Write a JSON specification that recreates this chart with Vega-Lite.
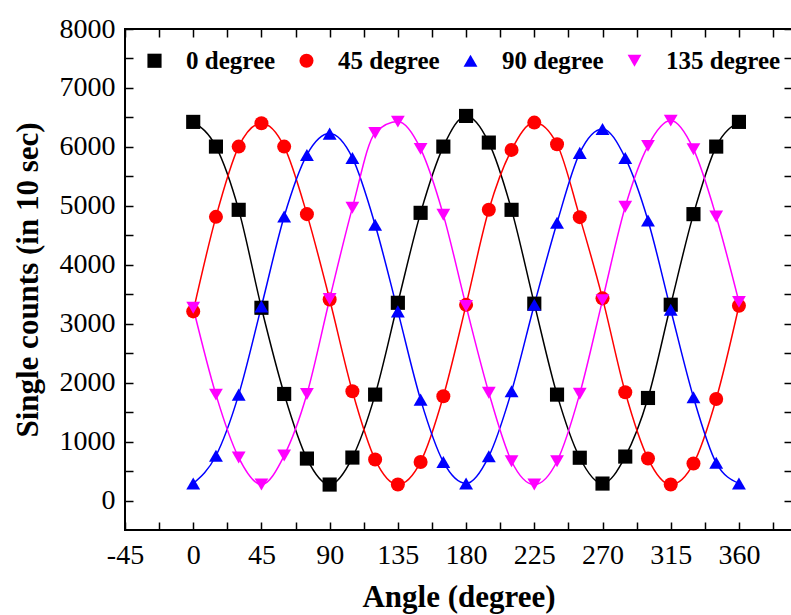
{
  "$schema": "https://vega.github.io/schema/vega-lite/v6.json",
  "autosize": {"type": "none"},
  "padding": {"left": 125, "top": 29, "right": 0, "bottom": 86},
  "width": 667,
  "height": 501,
  "background": "white",
  "config": {
    "view": {"stroke": "black", "strokeWidth": 2},
    "font": "Liberation Serif",
    "axis": {
      "domain": false,
      "grid": false,
      "tickColor": "black",
      "tickWidth": 1.5,
      "labelFont": "Liberation Serif",
      "labelFontSize": 28,
      "labelColor": "black",
      "titleFont": "Liberation Serif",
      "titleFontSize": 31,
      "titleFontWeight": "bold",
      "titleColor": "black",
      "labelOverlap": false,
      "labelFlush": false
    },
    "legend": {
      "labelFont": "Liberation Serif",
      "labelFontSize": 25,
      "labelFontWeight": "bold",
      "labelColor": "black"
    }
  },
  "data": {
    "values": [
      {"angle": 0, "counts": 6424, "series": "0 degree"},
      {"angle": 15, "counts": 6005, "series": "0 degree"},
      {"angle": 30, "counts": 4932, "series": "0 degree"},
      {"angle": 45, "counts": 3270, "series": "0 degree"},
      {"angle": 60, "counts": 1808, "series": "0 degree"},
      {"angle": 75, "counts": 712, "series": "0 degree"},
      {"angle": 90, "counts": 271, "series": "0 degree"},
      {"angle": 105, "counts": 729, "series": "0 degree"},
      {"angle": 120, "counts": 1797, "series": "0 degree"},
      {"angle": 135, "counts": 3355, "series": "0 degree"},
      {"angle": 150, "counts": 4881, "series": "0 degree"},
      {"angle": 165, "counts": 6005, "series": "0 degree"},
      {"angle": 180, "counts": 6525, "series": "0 degree"},
      {"angle": 195, "counts": 6073, "series": "0 degree"},
      {"angle": 210, "counts": 4932, "series": "0 degree"},
      {"angle": 225, "counts": 3340, "series": "0 degree"},
      {"angle": 240, "counts": 1797, "series": "0 degree"},
      {"angle": 255, "counts": 726, "series": "0 degree"},
      {"angle": 270, "counts": 288, "series": "0 degree"},
      {"angle": 285, "counts": 746, "series": "0 degree"},
      {"angle": 300, "counts": 1740, "series": "0 degree"},
      {"angle": 315, "counts": 3322, "series": "0 degree"},
      {"angle": 330, "counts": 4859, "series": "0 degree"},
      {"angle": 345, "counts": 6005, "series": "0 degree"},
      {"angle": 360, "counts": 6424, "series": "0 degree"},
      {"angle": 0, "counts": 3209, "series": "45 degree"},
      {"angle": 15, "counts": 4813, "series": "45 degree"},
      {"angle": 30, "counts": 6005, "series": "45 degree"},
      {"angle": 45, "counts": 6400, "series": "45 degree"},
      {"angle": 60, "counts": 6005, "series": "45 degree"},
      {"angle": 75, "counts": 4859, "series": "45 degree"},
      {"angle": 90, "counts": 3410, "series": "45 degree"},
      {"angle": 105, "counts": 1853, "series": "45 degree"},
      {"angle": 120, "counts": 695, "series": "45 degree"},
      {"angle": 135, "counts": 271, "series": "45 degree"},
      {"angle": 150, "counts": 655, "series": "45 degree"},
      {"angle": 165, "counts": 1768, "series": "45 degree"},
      {"angle": 180, "counts": 3320, "series": "45 degree"},
      {"angle": 195, "counts": 4932, "series": "45 degree"},
      {"angle": 210, "counts": 5949, "series": "45 degree"},
      {"angle": 225, "counts": 6412, "series": "45 degree"},
      {"angle": 240, "counts": 6045, "series": "45 degree"},
      {"angle": 255, "counts": 4808, "series": "45 degree"},
      {"angle": 270, "counts": 3430, "series": "45 degree"},
      {"angle": 285, "counts": 1836, "series": "45 degree"},
      {"angle": 300, "counts": 712, "series": "45 degree"},
      {"angle": 315, "counts": 271, "series": "45 degree"},
      {"angle": 330, "counts": 627, "series": "45 degree"},
      {"angle": 345, "counts": 1723, "series": "45 degree"},
      {"angle": 360, "counts": 3305, "series": "45 degree"},
      {"angle": 0, "counts": 290, "series": "90 degree"},
      {"angle": 15, "counts": 760, "series": "90 degree"},
      {"angle": 30, "counts": 1797, "series": "90 degree"},
      {"angle": 45, "counts": 3294, "series": "90 degree"},
      {"angle": 60, "counts": 4819, "series": "90 degree"},
      {"angle": 75, "counts": 5864, "series": "90 degree"},
      {"angle": 90, "counts": 6225, "series": "90 degree"},
      {"angle": 105, "counts": 5813, "series": "90 degree"},
      {"angle": 120, "counts": 4678, "series": "90 degree"},
      {"angle": 135, "counts": 3209, "series": "90 degree"},
      {"angle": 150, "counts": 1712, "series": "90 degree"},
      {"angle": 165, "counts": 655, "series": "90 degree"},
      {"angle": 180, "counts": 290, "series": "90 degree"},
      {"angle": 195, "counts": 750, "series": "90 degree"},
      {"angle": 210, "counts": 1853, "series": "90 degree"},
      {"angle": 225, "counts": 3322, "series": "90 degree"},
      {"angle": 240, "counts": 4712, "series": "90 degree"},
      {"angle": 255, "counts": 5898, "series": "90 degree"},
      {"angle": 270, "counts": 6305, "series": "90 degree"},
      {"angle": 285, "counts": 5813, "series": "90 degree"},
      {"angle": 300, "counts": 4751, "series": "90 degree"},
      {"angle": 315, "counts": 3237, "series": "90 degree"},
      {"angle": 330, "counts": 1751, "series": "90 degree"},
      {"angle": 345, "counts": 640, "series": "90 degree"},
      {"angle": 360, "counts": 290, "series": "90 degree"},
      {"angle": 0, "counts": 3271, "series": "135 degree"},
      {"angle": 15, "counts": 1797, "series": "135 degree"},
      {"angle": 30, "counts": 729, "series": "135 degree"},
      {"angle": 45, "counts": 271, "series": "135 degree"},
      {"angle": 60, "counts": 763, "series": "135 degree"},
      {"angle": 75, "counts": 1808, "series": "135 degree"},
      {"angle": 90, "counts": 3420, "series": "135 degree"},
      {"angle": 105, "counts": 4966, "series": "135 degree"},
      {"angle": 120, "counts": 6237, "series": "135 degree"},
      {"angle": 135, "counts": 6429, "series": "135 degree"},
      {"angle": 150, "counts": 5966, "series": "135 degree"},
      {"angle": 165, "counts": 4847, "series": "135 degree"},
      {"angle": 180, "counts": 3300, "series": "135 degree"},
      {"angle": 195, "counts": 1830, "series": "135 degree"},
      {"angle": 210, "counts": 667, "series": "135 degree"},
      {"angle": 225, "counts": 271, "series": "135 degree"},
      {"angle": 240, "counts": 667, "series": "135 degree"},
      {"angle": 255, "counts": 1813, "series": "135 degree"},
      {"angle": 270, "counts": 3400, "series": "135 degree"},
      {"angle": 285, "counts": 4983, "series": "135 degree"},
      {"angle": 300, "counts": 6017, "series": "135 degree"},
      {"angle": 315, "counts": 6446, "series": "135 degree"},
      {"angle": 330, "counts": 5961, "series": "135 degree"},
      {"angle": 345, "counts": 4819, "series": "135 degree"},
      {"angle": 360, "counts": 3370, "series": "135 degree"}
    ]
  },
  "layer": [
    {
      "mark": {"type": "line", "interpolate": "monotone", "strokeWidth": 1.5, "clip": true},
      "encoding": {
        "x": {
          "field": "angle", "type": "quantitative",
          "scale": {"domain": [-45, 395], "nice": false, "zero": false},
          "axis": {
            "orient": "bottom",
            "title": "Angle (degree)",
            "values": [-45, -22.5, 0, 22.5, 45, 67.5, 90, 112.5, 135, 157.5, 180, 202.5, 225, 247.5, 270, 292.5, 315, 337.5, 360, 382.5],
            "labelExpr": "datum.value % 45 == 0 ? '' + datum.value : ''",
            "tickSize": -8,
            "labelPadding": 19,
            "titlePadding": 13
          }
        },
        "y": {
          "field": "counts", "type": "quantitative",
          "scale": {"domain": [-500, 8000], "nice": false, "zero": false},
          "axis": {
            "orient": "left",
            "title": "Single counts (in 10 sec)",
            "format": "d",
            "values": [0, 500, 1000, 1500, 2000, 2500, 3000, 3500, 4000, 4500, 5000, 5500, 6000, 6500, 7000, 7500, 8000],
            "labelExpr": "datum.value % 1000 == 0 ? datum.label : ''",
            "tickSize": -8,
            "labelPadding": 18,
            "titlePadding": 15
          }
        },
        "color": {
          "field": "series", "type": "nominal",
          "scale": {"domain": ["0 degree", "45 degree", "90 degree", "135 degree"], "range": ["#000000", "#ff0000", "#0000ff", "#ff00ff"]}
        },
        "detail": {"field": "series"}
      }
    },
    {
      "mark": {"type": "point", "filled": true, "opacity": 1, "clip": true},
      "encoding": {
        "x": {
          "field": "angle", "type": "quantitative",
          "axis": {
            "orient": "top",
            "title": null,
            "values": [-45, -22.5, 0, 22.5, 45, 67.5, 90, 112.5, 135, 157.5, 180, 202.5, 225, 247.5, 270, 292.5, 315, 337.5, 360, 382.5],
            "labels": false,
            "tickSize": -8
          }
        },
        "y": {
          "field": "counts", "type": "quantitative",
          "axis": {
            "orient": "right",
            "title": null,
            "values": [0, 500, 1000, 1500, 2000, 2500, 3000, 3500, 4000, 4500, 5000, 5500, 6000, 6500, 7000, 7500, 8000],
            "labels": false,
            "tickSize": -8
          }
        },
        "color": {
          "field": "series", "type": "nominal",
          "legend": {
            "title": null,
            "orient": "none",
            "legendX": 17,
            "legendY": 19,
            "direction": "horizontal",
            "symbolStrokeWidth": 0,
            "symbolSize": 200,
            "labelOffset": 19,
            "columnPadding": 18
          }
        },
        "shape": {
          "field": "series", "type": "nominal",
          "scale": {"domain": ["0 degree", "45 degree", "90 degree", "135 degree"], "range": ["square", "circle", "triangle-up", "triangle-down"]}
        },
        "size": {
          "field": "series", "type": "nominal",
          "scale": {"domain": ["0 degree", "45 degree", "90 degree", "135 degree"], "range": [200, 190, 400, 400]}
        }
      }
    }
  ],
  "resolve": {"axis": {"x": "independent", "y": "independent"}}
}
